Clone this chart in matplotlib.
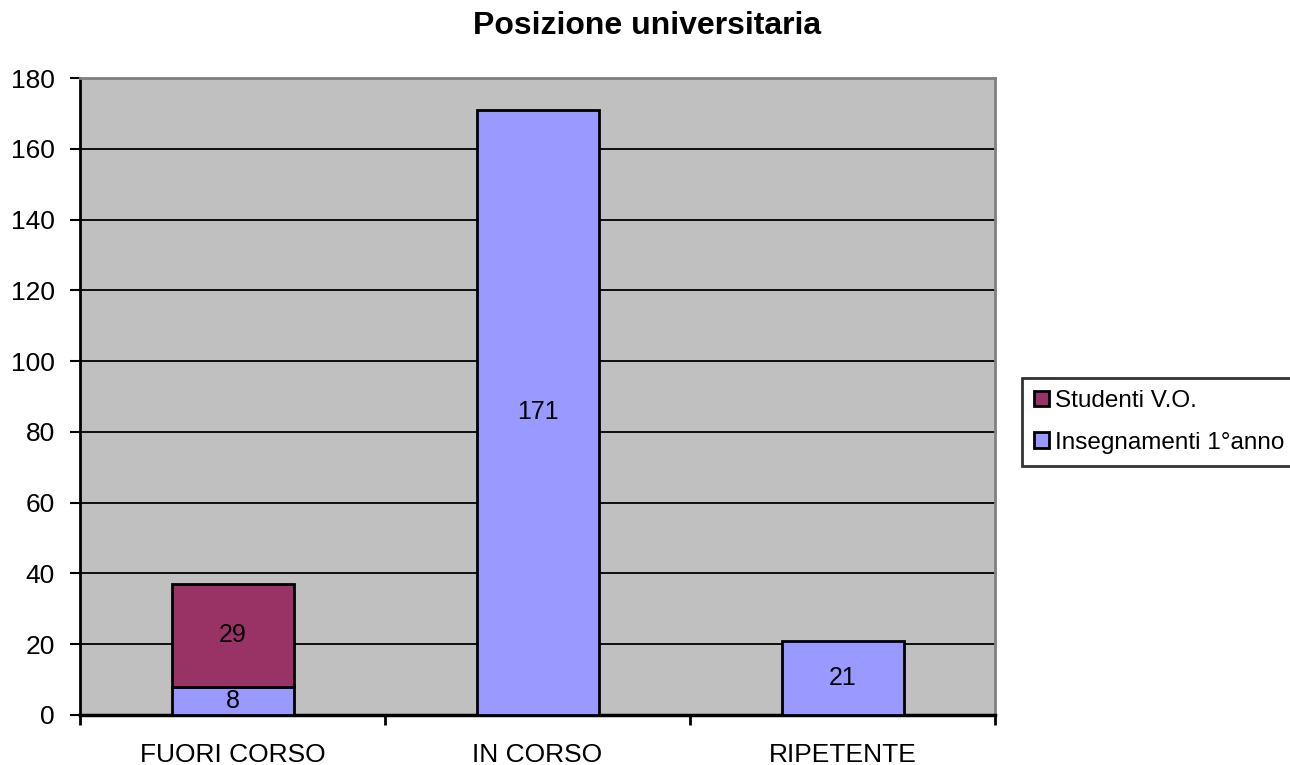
import matplotlib.pyplot as plt
import matplotlib.transforms as mtransforms
import numpy as np

plt.rcParams['font.family'] = ['Liberation Sans', 'DejaVu Sans']

categories = ['FUORI CORSO', 'IN CORSO', 'RIPETENTE']
insegnamenti = [8, 171, 21]
studenti = [29, 0, 0]
series_names = ['Studenti V.O.', 'Insegnamenti 1°anno']
yticks = [0, 20, 40, 60, 80, 100, 120, 140, 160, 180]

fig = plt.figure(figsize=(12.9, 7.65), dpi=100)
ax = fig.add_axes([80/1290, 1-715/765, 915/1290, 637/765])
ax.set_facecolor('#C0C0C0')

x = np.arange(len(categories))
width = 0.40
b1 = ax.bar(x, insegnamenti, width, color='#9999FF', edgecolor='black', linewidth=2, zorder=3)
b2 = ax.bar([xi for xi, s in zip(x, studenti) if s > 0], [s for s in studenti if s > 0], width,
            bottom=[b for b, s in zip(insegnamenti, studenti) if s > 0],
            color='#993366', edgecolor='black', linewidth=2, zorder=3)

# data labels
for xi, v in zip(x, insegnamenti):
    ax.text(xi, v/2, str(v), ha='center', va='center', fontsize=18, zorder=4)
for xi, b, s in zip(x, insegnamenti, studenti):
    if s > 0:
        ax.text(xi, b + s/2, str(s), ha='center', va='center', fontsize=18, zorder=4)

ax.set_ylim(0, 180)
ax.set_xlim(-0.5, 2.5)
ax.set_yticks(yticks)
ax.yaxis.grid(True, color='black', linewidth=1.3, zorder=1)
ax.set_axisbelow(True)
ax.tick_params(axis='y', labelsize=19, length=7, width=1.5, pad=11)

ax.set_xticks([-0.5, 0.5, 1.5, 2.5])
ax.set_xticklabels([])
ax.tick_params(axis='x', which='major', length=7, width=2, direction='out')

# category labels (partly cut by the bottom edge, as in the original)
trans = mtransforms.blended_transform_factory(ax.transData, fig.transFigure)
for xi, c in zip(x, categories):
    ax.text(xi, 1 - 762/765, c, transform=trans, ha='center', va='baseline',
            fontsize=19, clip_on=False)

for s in ['top', 'right']:
    ax.spines[s].set_color('#808080')
    ax.spines[s].set_linewidth(2)
ax.spines['left'].set_linewidth(2)
ax.spines['bottom'].set_linewidth(2.5)

fig.text(647/1290, 1-26/765, 'Posizione universitaria', ha='center', va='center',
         fontsize=23, fontweight='bold')

leg = fig.legend([b2, b1], series_names, loc='upper left',
                 bbox_to_anchor=(1022/1290, 1-378/765), fontsize=17.5,
                 frameon=True, fancybox=False, edgecolor='black',
                 handlelength=0.6, handleheight=0.6, handletextpad=0.25,
                 labelspacing=0.8, borderpad=0.5, borderaxespad=0)
leg.get_frame().set_linewidth(2)

fig.savefig('out.png', dpi=100)
